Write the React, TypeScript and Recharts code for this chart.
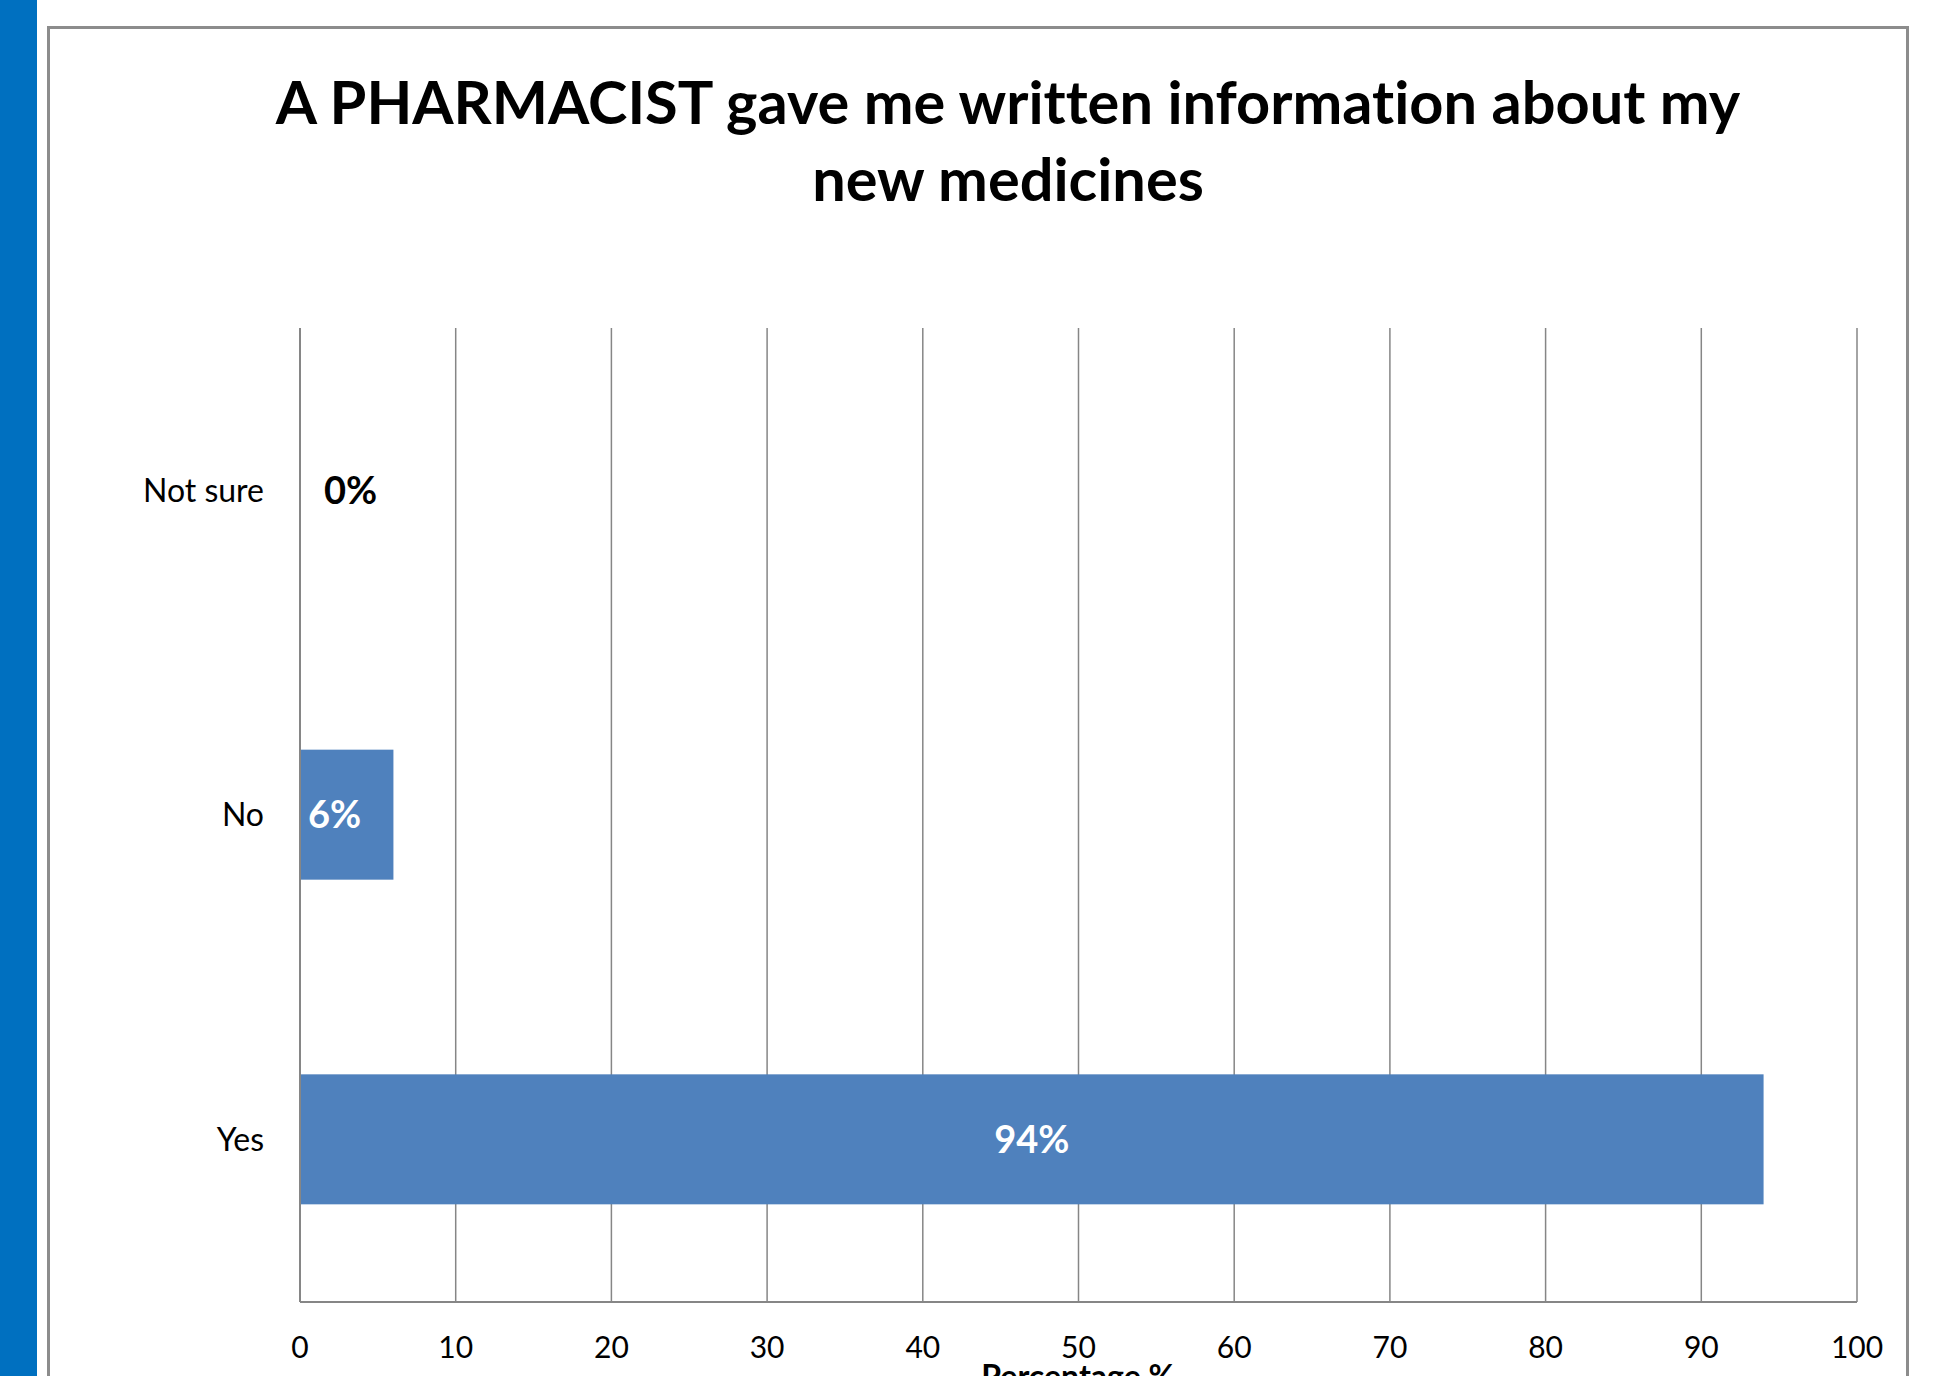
import React from 'react';
import { BarChart, Bar, XAxis, YAxis, CartesianGrid, LabelList } from 'recharts';

const categories = ['Not sure', 'No', 'Yes'];
const percentages = [0, 6, 94];
const xTicks = [0, 10, 20, 30, 40, 50, 60, 70, 80, 90, 100];
const titleLines = ['A PHARMACIST gave me written information about my', 'new medicines'];
const xAxisTitle = 'Percentage %';

const data = categories.map((name, i) => ({ name, value: percentages[i] }));

const FONT = 'Lato, "Open Sans", sans-serif';
const BAR_COLOR = '#4F81BD';

const renderLabel = (props: any) => {
  const { x, y, width, height, value } = props;
  const cy = y + height / 2;
  const text = `${value}%`;
  if (value === 0) {
    return (
      <text x={x + 24} y={cy} dy="0.36em" textAnchor="start" fill="#000" fontFamily={FONT} fontWeight={700} fontSize={38}>
        {text}
      </text>
    );
  }
  if (width < 150) {
    return (
      <text x={x + 8} y={cy} dy="0.36em" textAnchor="start" fill="#fff" fontFamily={FONT} fontWeight={700} fontSize={38}>
        {text}
      </text>
    );
  }
  return (
    <text x={x + width / 2} y={cy} dy="0.36em" textAnchor="middle" fill="#fff" fontFamily={FONT} fontWeight={700} fontSize={38}>
      {text}
    </text>
  );
};

const renderShape = (props: any) => {
  const { x, y, width, height, payload } = props;
  if (!payload || payload.value <= 0) return <g />;
  return <rect x={x} y={y} width={width} height={height} fill={BAR_COLOR} />;
};

export default function App() {
  return (
    <div style={{ position: 'absolute', left: 0, top: 0, width: 1940, height: 1376, overflow: 'hidden', background: '#fff', fontFamily: FONT, fontVariantLigatures: 'none' }}>
      <div style={{ position: 'absolute', left: 0, top: 0, width: 37, height: 1376, background: '#0070C0' }} />
      <div style={{ position: 'absolute', left: 47, top: 26, width: 1862, height: 1420, border: '3px solid #8c8c8c', boxSizing: 'border-box' }} />
      <div style={{ position: 'absolute', left: 1008 - 900, top: 63, width: 1800, textAlign: 'center', fontWeight: 700, fontSize: 59.5, lineHeight: '77px', color: '#000', whiteSpace: 'pre' }}>
        {titleLines.join('\n')}
      </div>
      <div style={{ position: 'absolute', left: 0, top: 0 }}>
        <BarChart
          width={1940}
          height={1376}
          data={data}
          layout="vertical"
          margin={{ top: 328, right: 83, bottom: 33, left: 100 }}
          barCategoryGap={0}
        >
          <CartesianGrid horizontal={false} vertical={true} stroke="#868686" strokeWidth={1.5} />
          <XAxis
            type="number"
            domain={[0, 100]}
            ticks={xTicks}
            interval={0}
            height={41}
            tickLine={false}
            tickSize={0}
            tickMargin={35}
            axisLine={{ stroke: '#868686', strokeWidth: 2 }}
            tick={{ fill: '#000', fontSize: 30, fontFamily: FONT }}
          />
          <YAxis
            type="category"
            dataKey="name"
            width={200}
            tickLine={false}
            tickSize={0}
            tickMargin={36}
            axisLine={{ stroke: '#868686', strokeWidth: 2 }}
            tick={{ fill: '#000', fontSize: 32, fontFamily: FONT }}
          />
          <Bar dataKey="value" fill={BAR_COLOR} barSize={130} minPointSize={1} shape={renderShape} isAnimationActive={false}>
            <LabelList dataKey="value" content={renderLabel} />
          </Bar>
        </BarChart>
      </div>
      <div style={{ position: 'absolute', left: 1078 - 300, top: 1357, width: 600, textAlign: 'center', fontWeight: 700, fontSize: 32, color: '#000', lineHeight: '38px' }}>
        {xAxisTitle}
      </div>
    </div>
  );
}
